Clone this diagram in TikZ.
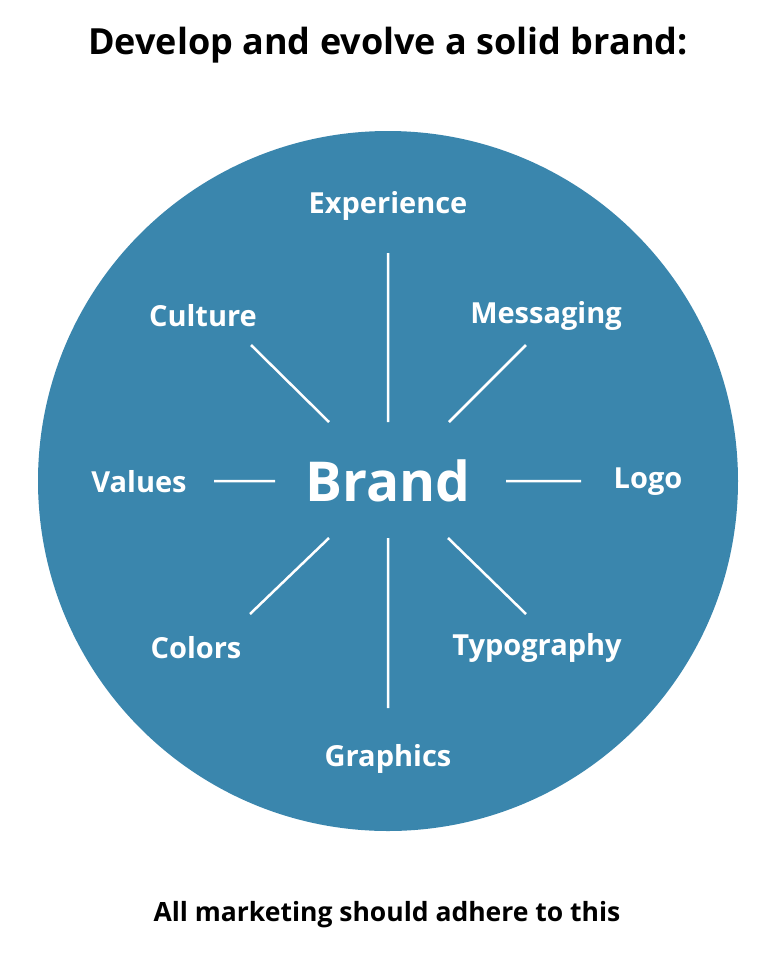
\documentclass[tikz,border=0pt]{standalone}
\usepackage{fontspec}
\setmainfont{Open Sans}
\usetikzlibrary{positioning}
\definecolor{brandblue}{HTML}{3A86AD}
\begin{document}
\begin{tikzpicture}[x=1pt, y=-1pt,
    label/.style={text=white, font=\bfseries\fontsize{29}{34}\selectfont},
    spoke/.style={draw=white, line width=2.5pt}]

      \useasboundingbox (0,0) rectangle (780,954);

      % Title, circle and footer
      \node[font=\bfseries\fontsize{36}{42}\selectfont] (title) at (388,45) {Develop and evolve a solid brand:};
      \fill[brandblue] (388,481) circle (350);
      \node[font=\bfseries\fontsize{26.5}{30}\selectfont] (footer) at (387,915) {All marketing should adhere to this};

      % Center and labels
      \node[text=white, font=\bfseries\fontsize{55}{62}\selectfont] (brand) at (388,481) {Brand};
      \node[label] (experience) at (388,206) {Experience};
      \node[label] (culture) at (203,316) {Culture};
      \node[label] (messaging) at (546,316) {Messaging};
      \node[label] (values) at (139,482) {Values};
      \node[label] (logo) at (648,482) {Logo};
      \node[label] (colors) at (196,648) {Colors};
      \node[label] (typography) at (537,648) {Typography};
      \node[label] (graphics) at (388,759) {Graphics};

      % Spoke ends
      \coordinate (e1) at (388,253); \coordinate (e2) at (388,422);
      \coordinate (m1) at (526,345); \coordinate (m2) at (449,422);
      \coordinate (c1) at (251,345); \coordinate (c2) at (329,422);
      \coordinate (v1) at (214,481); \coordinate (v2) at (275,481);
      \coordinate (l1) at (581,481); \coordinate (l2) at (506,481);
      \coordinate (o1) at (250,614); \coordinate (o2) at (329,538);
      \coordinate (t1) at (526,614); \coordinate (t2) at (448,538);
      \coordinate (g1) at (388,708); \coordinate (g2) at (388,538);

      % Spokes
      \path[spoke]
        (e1) -- (e2)
        (m1) -- (m2)
        (c1) -- (c2)
        (v1) -- (v2)
        (l1) -- (l2)
        (o1) -- (o2)
        (t1) -- (t2)
        (g1) -- (g2);

\end{tikzpicture}
\end{document}
